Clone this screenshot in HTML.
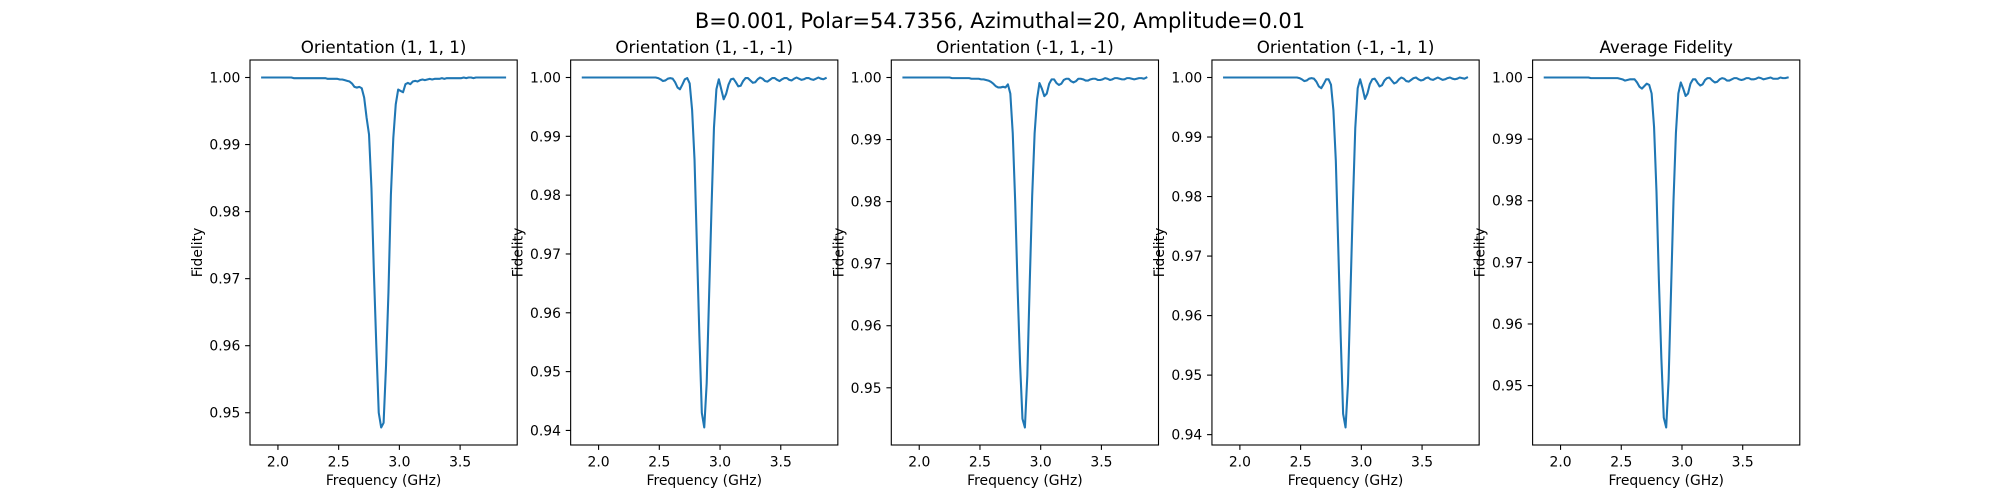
<!DOCTYPE html>
<html><head><meta charset="utf-8"><style>
html,body{margin:0;padding:0;background:#fff;}
svg{display:block;font-family:"DejaVu Sans","Liberation Sans",sans-serif;}
</style></head><body>
<svg id="fig" width="2000" height="500" viewBox="0 0 2000 500">
<rect width="2000" height="500" fill="#fff"/>
<text x="1000" y="28" font-size="21" text-anchor="middle">B=0.001, Polar=54.7356, Azimuthal=20, Amplitude=0.01</text>
</svg>
<script>
const freqStart = 1.87, freqStep = 0.02;
const panelTitles = ["Orientation (1, 1, 1)","Orientation (1, -1, -1)","Orientation (-1, 1, -1)","Orientation (-1, -1, 1)","Average Fidelity"];
const xTicks = [2.0, 2.5, 3.0, 3.5];
const xTickLabels = ["2.0","2.5","3.0","3.5"];
// infidelity values (1 - F) * 1e4, one per frequency sample
const loss111 = [0,0,0,0,0,0,0,0,0,0, 0,0,0,1,1,1,1,1,1,1, 1,1,1,1,1,1,1,2,2,2,
 2,2,3,3,4,5,6,9,14,15, 14,16,30,60,85,165,290,400,500,522,
 515,430,320,175,90,40,18,20,22,10, 8,10,6,5,6,4,3,4,3,2,
 3,2,2,2,1,2,1,1,1,1, 1,1,1,0,1,0,0,1,0,0, 0,0,0,0,0,0,0,0,0,0,0];
const loss1mm = [0,0,0,0,0,0,0,0,0,0, 0,0,0,0,0,0,0,0,0,0, 0,0,0,0,0,0,0,0,0,0,
 0,1,3,6,5,2,1,2,8,17, 20,12,3,1,10,55,140,290,440,570,
 595,520,370,220,85,20,3,20,37,28, 12,3,2,8,15,14,6,1,1,5,
 9,8,3,0,2,6,7,4,1,1, 4,6,3,1,1,4,5,2,0,2, 4,3,1,1,3,4,2,0,2,3,1];
const lossm1m = [0,0,0,0,0,0,0,0,0,0, 0,0,0,0,0,0,0,0,0,0, 1,1,1,1,1,1,1,1,2,2,
 2,2,3,3,4,5,7,10,14,16, 16,15,16,11,26,90,200,340,460,550,
 564,480,330,190,90,35,9,18,30,26, 10,3,3,9,12,10,4,2,2,6,
 8,6,2,2,3,5,5,3,2,2, 4,4,3,1,2,4,3,1,1,2, 3,3,1,1,2,3,2,1,1,2,0];
const lossmm1 = [0,0,0,0,0,0,0,0,0,0, 0,0,0,0,0,0,0,0,0,0, 0,0,0,0,0,0,0,0,0,0,
 0,1,3,6,5,2,1,2,7,15, 18,11,3,3,12,55,140,285,435,565,
 588,515,365,215,85,18,3,18,36,27, 11,3,2,8,15,13,5,1,0,5,
 10,8,3,0,2,6,7,4,1,0, 3,5,4,1,0,3,4,2,0,2, 4,3,1,0,2,3,2,0,1,2,0];
const lossAvg = [0,0,0,0,0,0,0,0,0,0, 0,0,0,0,0,0,0,0,0,1, 1,1,1,1,1,1,1,1,1,1,
 1,2,3,5,4,3,3,3,8,15, 18,14,10,12,26,80,185,330,455,552,
 568,490,345,200,90,26,8,18,30,26, 10,3,3,9,13,11,4,1,1,5,
 8,7,3,1,2,5,5,3,1,1, 3,4,3,1,1,3,3,2,0,1, 3,2,1,0,2,2,2,0,1,1,0];
const seriesList = [loss111, loss1mm, lossm1m, lossmm1, lossAvg];

const NS = "http://www.w3.org/2000/svg";
const svg = document.getElementById("fig");
function mk(tag, attrs, parent){ const e=document.createElementNS(NS,tag); for(const k in attrs) e.setAttribute(k,attrs[k]); (parent||svg).appendChild(e); return e; }

const L0 = 250, W = 267.2, GAP = 53.45, TOP = 60, BOT = 445, H = BOT-TOP;
seriesList.forEach((loss, p) => {
  const left = L0 + p*(W+GAP);
  const g = mk("g", {});
  
  
  const xs = loss.map((_, i) => freqStart + freqStep*i);
  const fs = loss.map(v => 1 - v/1e4);
  const xmin0 = Math.min(...xs), xmax0 = Math.max(...xs), dx = xmax0 - xmin0;
  const xlo = xmin0 - 0.05*dx, xhi = xmax0 + 0.05*dx;
  const ymin0 = Math.min(...fs), ymax0 = Math.max(...fs), dy = ymax0 - ymin0;
  const ylo = ymin0 - 0.05*dy, yhi = ymax0 + 0.05*dy;
  const X = v => left + (v - xlo)/(xhi - xlo)*W;
  const Y = v => BOT - (v - ylo)/(yhi - ylo)*H;

  const d = xs.map((x, i) => (i ? "L" : "M") + X(x).toFixed(2) + "," + Y(fs[i]).toFixed(2)).join(" ");
  const line = mk("path", {d: d, fill: "none", stroke: "#1f77b4", "stroke-width": 2.08, "stroke-linejoin": "round", "stroke-linecap": "square"}, g);
  
  

  const frame = mk("rect", {x: left, y: TOP, width: W, height: H, fill: "none", stroke: "#000", "stroke-width": 1.1}, g);
  
  

  xTicks.forEach((t, k) => {
    const x = X(t);
    mk("line", {x1: x, y1: BOT, x2: x, y2: BOT+4.9, stroke: "#000", "stroke-width": 1.1}, g);
    const tl = mk("text", {x: x, y: BOT+21.5, "font-size": 13.9, "text-anchor": "middle"}, g);
    tl.textContent = xTickLabels[k];
    
    
  });
  for (let t = Math.ceil(ylo*100 - 1e-9); t <= Math.floor(yhi*100 + 1e-9); t++) {
    const v = t/100, y = Y(v);
    mk("line", {x1: left-4.9, y1: y, x2: left, y2: y, stroke: "#000", "stroke-width": 1.1}, g);
    const tl = mk("text", {x: left-9.7, y: y+5, "font-size": 13.9, "text-anchor": "end"}, g);
    tl.textContent = v.toFixed(2);
    
    
  }
  const ttl = mk("text", {x: left+W/2, y: TOP-7, "font-size": 16.7, "text-anchor": "middle"}, g);
  ttl.textContent = panelTitles[p];
  
  
  const xl = mk("text", {x: left+W/2, y: 485, "font-size": 13.9, "text-anchor": "middle"}, g);
  xl.textContent = "Frequency (GHz)";
  
  
  const yl = mk("text", {x: 0, y: 0, "font-size": 13.9, "text-anchor": "middle", transform: "translate(" + (left-48) + "," + (TOP+H/2) + ") rotate(-90)"}, g);
  yl.textContent = "Fidelity";
  
  
});
</script>
</body></html>
